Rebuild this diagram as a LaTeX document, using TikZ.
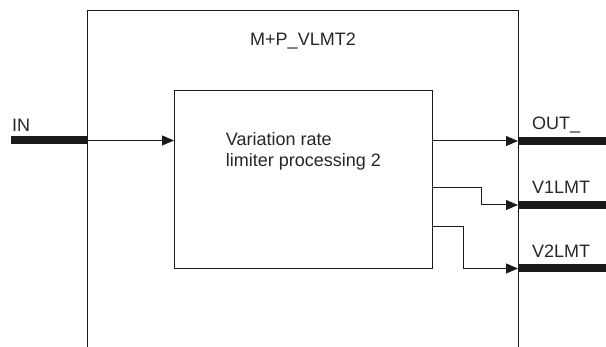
\documentclass[tikz,border=0pt]{standalone}
\usepackage{fontspec}
\setmainfont{Liberation Sans}
\usepackage{tikz}
\usetikzlibrary{
  arrows.meta,
  positioning,
  calc
}
\definecolor{lineClr}{HTML}{1A1A1A}
\definecolor{txtClr}{HTML}{262626}
\tikzset{
  fb box/.style={
    rectangle, draw=lineClr, line width=1pt, fill=none,
    inner sep=0pt, anchor=north west
  },
  bus/.style={line width=8pt, draw=lineClr},
  sig/.style={-{Triangle[length=12pt,width=10pt]},
    line width=1pt, draw=lineClr},
  lbl/.style={font=\fontsize{18}{21}\selectfont, text=txtClr,
    inner sep=0pt}
}

\begin{document}
\begin{tikzpicture}[x=1pt, y=-1pt]
    \useasboundingbox (0,0) rectangle (606,347);
    \clip (0,0) rectangle (606,347);

    % function block and inner processing block
    \node[fb box, minimum width=431pt, minimum height=380pt] (fb) at (87,10) {};
    \node[fb box, minimum width=258pt, minimum height=178pt] (proc) at (174,90) {};

    \node[lbl, anchor=base] (fbname) at ($(fb.north)+(0,36)$) {M+P\_VLMT2};
    \node[lbl, align=left, anchor=north] (procname) at ($(proc.north)+(0,42)$)
      {Variation rate\\limiter processing 2};

    % port positions
    \coordinate (inL)  at (11,140.5);
    \coordinate (inR)  at (87,140.5);
    \coordinate (outA) at (518,141);
    \coordinate (outB) at (518,205);
    \coordinate (outC) at (518,268.5);
    \coordinate (kB)   at (481,188);
    \coordinate (kC)   at (463,227);

    % input
    \draw[bus] (inL) -- (inR);
    \node[lbl, anchor=base west] (inlbl) at ($(inL)+(1,-9)$) {IN};
    \draw[sig] (inR) -- (inR -| proc.west);

    % outputs
    \draw[sig] (outA -| proc.east) -- (outA);
    \draw[sig] (kB -| proc.east) -- (kB) |- (outB);
    \draw[sig] (kC -| proc.east) -- (kC) |- (outC);

    \foreach \p/\t in {outA/OUT\_, outB/V1LMT, outC/V2LMT}{
      \draw[bus] (\p) -- ++(90,0);
      \node[lbl, anchor=base west] at ($(\p)+(14,-11)$) {\t};
    }

  \end{tikzpicture}
\end{document}
